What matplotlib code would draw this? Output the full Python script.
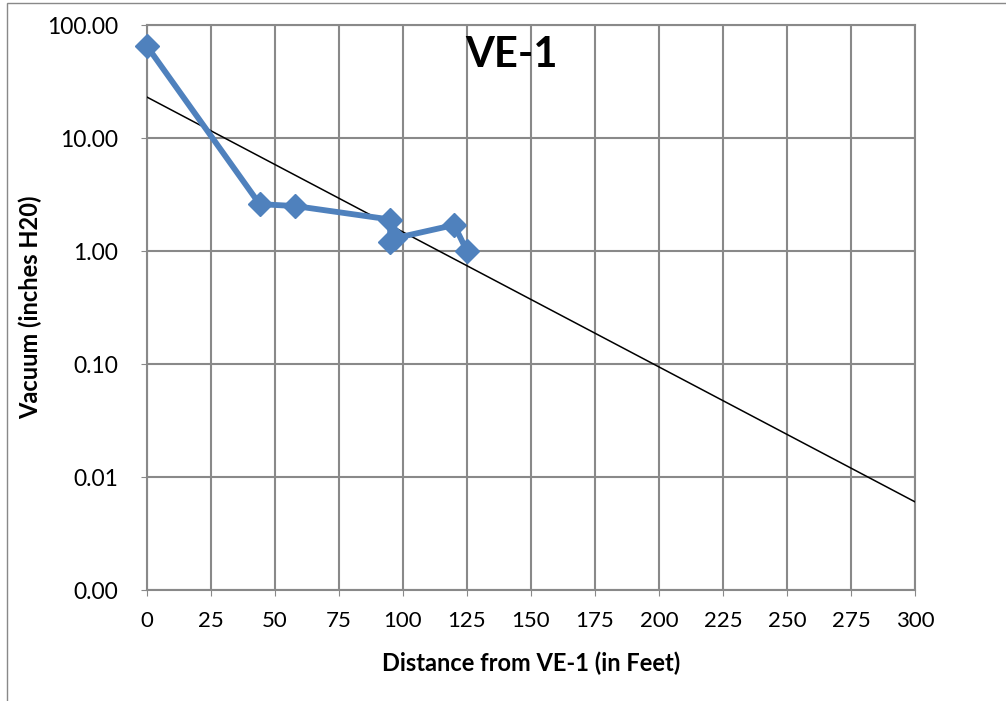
import matplotlib.pyplot as plt
import matplotlib.patches as mpatches
import numpy as np

plt.rcParams['font.family'] = ['Lato', 'DejaVu Sans']

# measured points (distance in feet, vacuum in inches H2O)
distance = [0, 44, 58, 95, 95, 97, 120, 125]
vacuum = [65, 2.6, 2.5, 1.9, 1.2, 1.3, 1.7, 1.0]
x_ticks = [0, 25, 50, 75, 100, 125, 150, 175, 200, 225, 250, 275, 300]
y_ticks = [0.001, 0.01, 0.1, 1, 10, 100]

fig = plt.figure(figsize=(10.06, 7.01), dpi=100)
ax = fig.add_axes([0.1461, 0.1583, 0.7634, 0.8060])

# exponential trendline (least squares on log values, like Excel)
b, a = np.polyfit(distance, np.log(vacuum), 1)
xt = np.array([0, 300])
ax.plot(xt, np.exp(a + b * xt), color="black", lw=1.1, zorder=3)

ax.plot(distance, vacuum, color="#4F81BD", lw=4.2, marker="D", markersize=12,
        markeredgecolor="#4F81BD", zorder=4, clip_on=False)

ax.set_yscale("log")
ax.set_xlim(0, 300)
ax.set_ylim(0.001, 100)
ax.set_xticks(x_ticks)
ax.set_yticks(y_ticks)
ax.set_yticklabels([f"{v:.2f}" for v in y_ticks])
ax.minorticks_off()
ax.tick_params(axis="x", labelsize=16, length=4, color="#898989", pad=11)
ax.tick_params(axis="y", labelsize=16.5, length=4, color="#898989", pad=17)
ax.grid(True, color="#898989", lw=1.5)
ax.set_axisbelow(True)
for s in ax.spines.values():
    s.set_color("#898989")
    s.set_linewidth(1.5)

ax.set_xlabel("Distance from VE-1 (in Feet)", fontsize=17, fontweight="bold")
ax.set_ylabel("Vacuum (inches H20)", fontsize=17, fontweight="bold")
ax.xaxis.set_label_coords(0.5, -0.108)
ax.yaxis.set_label_coords(-0.137, 0.5)
ax.text(0.474, 0.947, "VE-1", transform=ax.transAxes, ha="center", va="center",
        fontsize=30, fontweight="bold")

# chart frame
fig.patches.append(mpatches.Rectangle((7 / 1006, -0.1), 1.5, 1.1 - 3 / 701,
                                      transform=fig.transFigure, fill=False,
                                      edgecolor="#898989", lw=1))

plt.savefig("out.png", dpi=100)
